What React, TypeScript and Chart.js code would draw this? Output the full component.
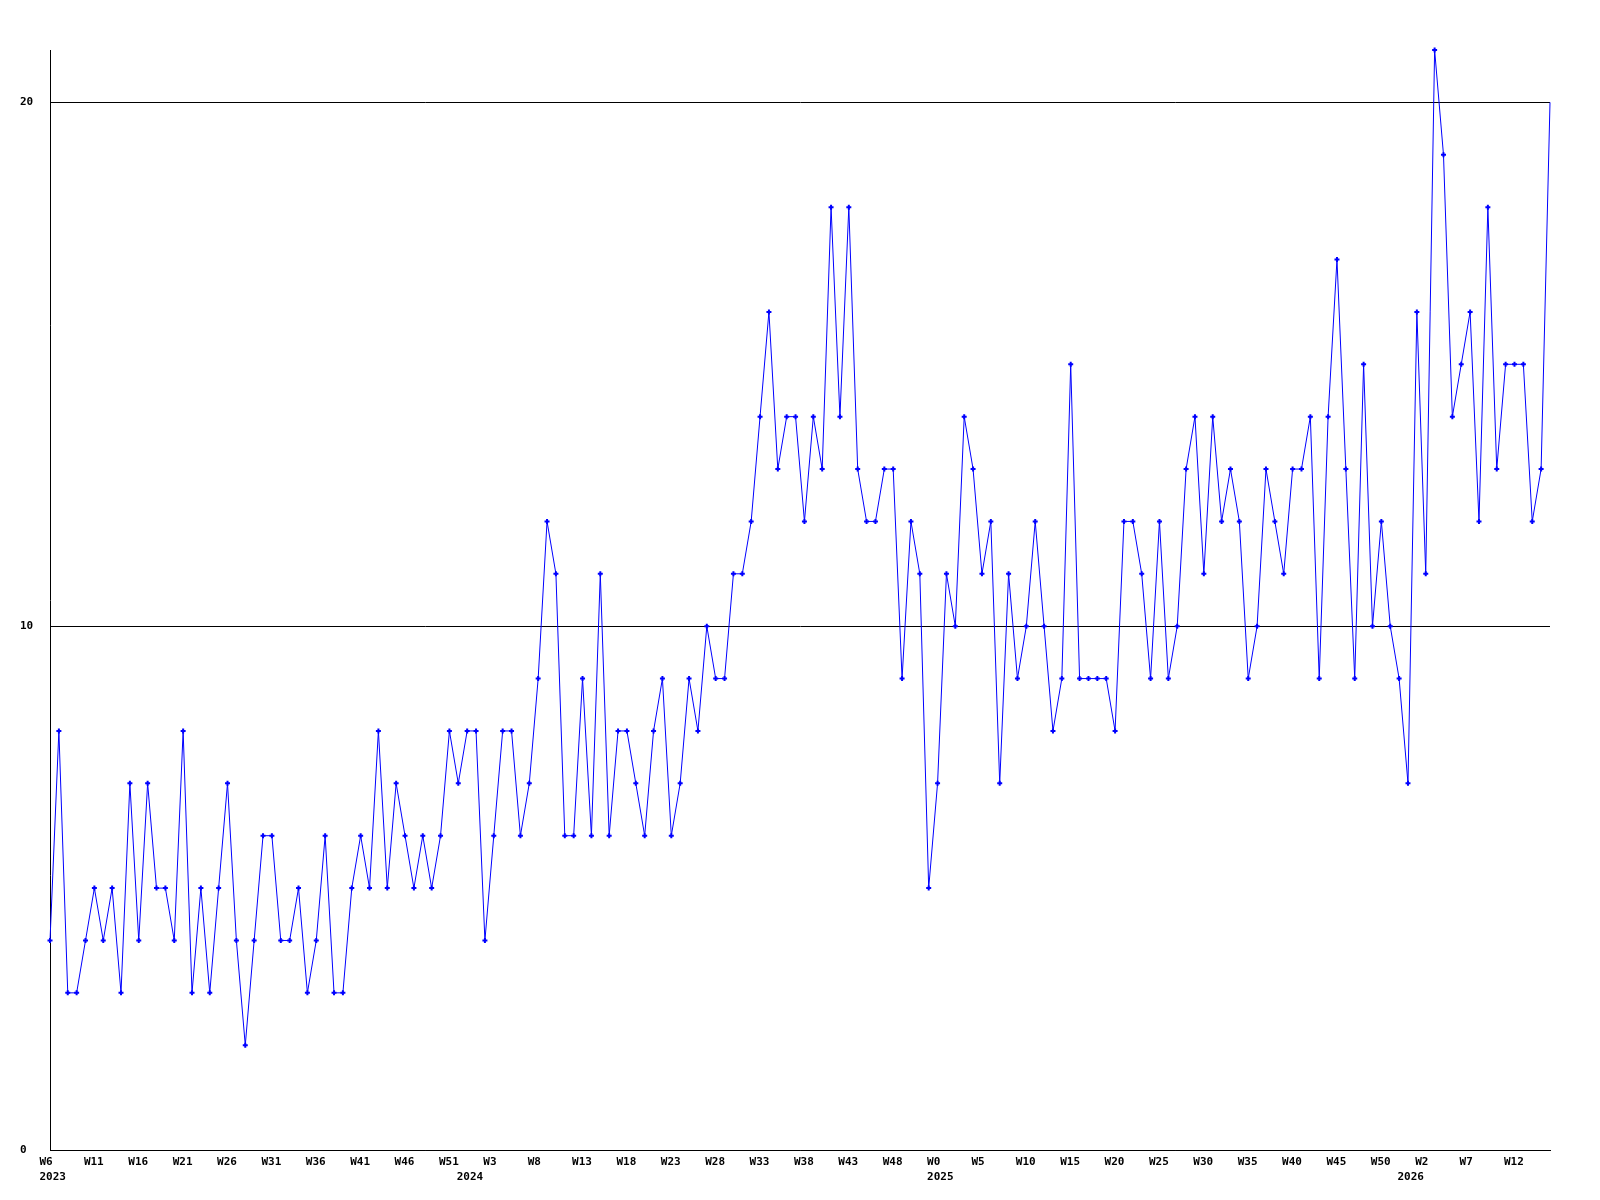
import React, { useEffect, useRef } from "react";
import { Chart, registerables } from "chart.js";

Chart.register(...registerables);

// Weekly values, first point = W6 2023, last point = W16 2026
const values: number[] = [
  4, 8, 3, 3, 4, 5, 4, 5, 3, 7, 4, 7, 5, 5, 4, 8, 3, 5, 3, 5, 7, 4, 2, 4,
  6, 6, 4, 4, 5, 3, 4, 6, 3, 3, 5, 6, 5, 8, 5, 7, 6, 5, 6, 5, 6, 8, 7, 8,
  8, 4, 6, 8, 8, 6, 7, 9, 12, 11, 6, 6, 9, 6, 11, 6, 8, 8, 7, 6, 8, 9, 6, 7,
  9, 8, 10, 9, 9, 11, 11, 12, 14, 16, 13, 14, 14, 12, 14, 13, 18, 14, 18, 13, 12, 12, 13, 13,
  9, 12, 11, 5, 7, 11, 10, 14, 13, 11, 12, 7, 11, 9, 10, 12, 10, 8, 9, 15, 9, 9, 9, 9,
  8, 12, 12, 11, 9, 12, 9, 10, 13, 14, 11, 14, 12, 13, 12, 9, 10, 13, 12, 11, 13, 13, 14, 9,
  14, 17, 13, 9, 15, 10, 12, 10, 9, 7, 16, 11, 21, 19, 14, 15, 16, 12, 18, 13, 15, 15, 15, 12, 13, 20,
];

// One week label every 5 points, starting at the first point
const weekTickLabels: string[] = [
  "W6", "W11", "W16", "W21", "W26", "W31", "W36", "W41", "W46", "W51",
  "W3", "W8", "W13", "W18", "W23", "W28", "W33", "W38", "W43", "W48",
  "W0", "W5", "W10", "W15", "W20", "W25", "W30", "W35", "W40", "W45",
  "W50", "W2", "W7", "W12",
];
const weekTickEvery = 5;

// Year labels and the point index where each year begins
const yearLabels: string[] = ["2023", "2024", "2025", "2026"];
const yearStartIndex: number[] = [0, 47, 100, 153];

const yTickValues: number[] = [0, 10, 20];
const yMax = 21;

function xLabel(i: number): string | string[] | null {
  const week =
    i % weekTickEvery === 0 ? weekTickLabels[i / weekTickEvery] ?? "" : "";
  const yi = yearStartIndex.indexOf(i);
  const year = yi >= 0 ? yearLabels[yi] : "";
  if (!week && !year) return null;
  return year ? [week, year] : week;
}

const tickFont = {
  family: "'DejaVu Sans Mono', monospace",
  size: 11,
  weight: "bold" as const,
  lineHeight: 1.42,
};

export default function App() {
  const ref = useRef<HTMLCanvasElement | null>(null);

  useEffect(() => {
    if (!ref.current) return;
    const lastIndex = values.length - 1;
    const chart = new Chart(ref.current, {
      type: "line",
      data: {
        labels: values.map((_, i) => String(i)),
        datasets: [
          {
            data: values,
            borderColor: "#0000ff",
            backgroundColor: "#0000ff",
            borderWidth: 1,
            tension: 0,
            pointStyle: "cross",
            pointRadius: (ctx: any) => (ctx.dataIndex === lastIndex ? 0 : 2.5),
            pointBorderWidth: 2,
            pointBorderColor: "#0000ff",
            clip: false as any,
          },
        ],
      },
      options: {
        responsive: false,
        animation: false,
        layout: { padding: { left: 12, right: 42, top: 42, bottom: 0 } },
        plugins: {
          legend: { display: false },
          tooltip: { enabled: false },
          title: { display: false },
        },
        scales: {
          x: {
            type: "category",
            offset: false,
            grid: { display: false, drawTicks: false },
            border: { display: true, color: "#000", width: 1 },
            afterFit: (scale: any) => {
              scale.height = 42;
            },
            ticks: {
              autoSkip: false,
              maxRotation: 0,
              minRotation: 0,
              align: "start",
              labelOffset: -10.5,
              padding: 4,
              color: "#000",
              font: tickFont,
              callback: (_v: any, i: number) => xLabel(i),
            },
          },
          y: {
            type: "linear",
            min: 0,
            max: yMax,
            grid: { color: "#000", lineWidth: 1, drawTicks: false },
            border: { display: true, color: "#000", width: 1 },
            afterBuildTicks: (scale: any) => {
              scale.ticks = yTickValues.map((v) => ({ value: v }));
            },
            afterFit: (scale: any) => {
              scale.width = 30;
            },
            ticks: {
              crossAlign: "far",
              padding: 4,
              color: "#000",
              font: tickFont,
              callback: (v: any) => String(v),
            },
          },
        },
      },
    });
    return () => chart.destroy();
  }, []);

  return (
    <div style={{ width: 1584, height: 1184 }}>
      <canvas
        ref={ref}
        width={1584}
        height={1184}
        style={{ display: "block" }}
      />
    </div>
  );
}
